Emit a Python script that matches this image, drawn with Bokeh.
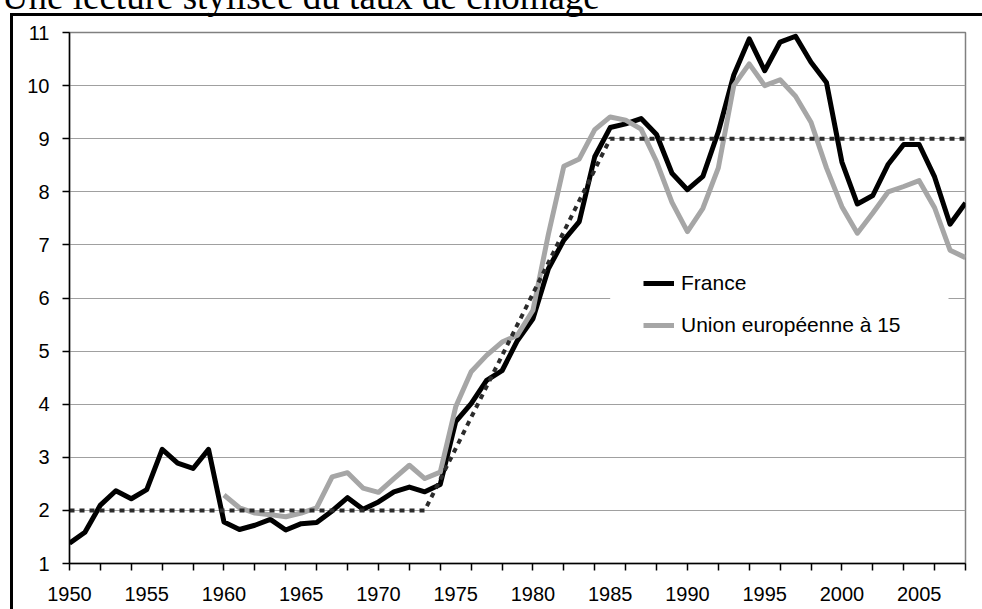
from bokeh.plotting import figure
from bokeh.models import (Range1d, FixedTicker, Legend, LegendItem,
                          BoxAnnotation, Label, InlineStyleSheet)
from bokeh.embed import file_html
from bokeh.resources import INLINE

# ---------------- data ----------------
title_text = "Une lecture stylisée du taux de chômage"

years = list(range(1950, 2009))
france = [1.38, 1.59, 2.10, 2.37, 2.22, 2.39, 3.15, 2.89, 2.79, 3.15,
          1.78, 1.64, 1.72, 1.83, 1.63, 1.75, 1.77, 1.99, 2.24, 2.02,
          2.16, 2.35, 2.44, 2.35, 2.49, 3.67, 4.01, 4.45, 4.63, 5.20,
          5.61, 6.55, 7.09, 7.44, 8.66, 9.21, 9.28, 9.38, 9.08, 8.35,
          8.04, 8.29, 9.13, 10.20, 10.88, 10.28, 10.82, 10.93, 10.44, 10.06,
          8.56, 7.77, 7.93, 8.52, 8.89, 8.89, 8.28, 7.39, 7.79]

eu_years = list(range(1960, 2009))
eu15 = [2.29, 2.05, 1.95, 1.92, 1.88, 1.95, 2.05, 2.63, 2.71, 2.42,
        2.34, 2.60, 2.85, 2.60, 2.72, 3.95, 4.61, 4.92, 5.17, 5.30,
        5.77, 7.20, 8.48, 8.62, 9.17, 9.41, 9.35, 9.18, 8.57, 7.80,
        7.25, 7.69, 8.45, 10.00, 10.41, 10.00, 10.11, 9.80, 9.31, 8.45,
        7.72, 7.22, 7.60, 8.00, 8.10, 8.21, 7.70, 6.90, 6.76]

stylised_years = [1950, 1973, 1985, 2008]
stylised_values = [2.0, 2.0, 9.0, 9.0]

x_label_years = [1950, 1955, 1960, 1965, 1970, 1975, 1980, 1985, 1990, 1995, 2000, 2005]
x_minor_years = [1950, 1952, 1954, 1956, 1958, 1960, 1962, 1964, 1966, 1968,
                 1970, 1972, 1974, 1976, 1978, 1980, 1982, 1984, 1986, 1988,
                 1990, 1992, 1994, 1996, 1998, 2000, 2002, 2004, 2006, 2008]
y_ticks = [1, 2, 3, 4, 5, 6, 7, 8, 9, 10, 11]

legend_labels = ["France", "Union européenne à 15"]

# ---------------- figure ----------------
FONT = "Liberation Sans"

# The top border is large enough for the title label; the figure is shifted up
# by 16px so that the plot frame still starts 32px below the top of the page.
p = figure(width=982, height=625, title=None,
           x_range=Range1d(1950, 2008), y_range=Range1d(1, 11),
           output_backend="svg", toolbar_location=None,
           min_border_left=69, min_border_right=17,
           min_border_top=48, min_border_bottom=46,
           margin=(-16, 0, 0, 0))
p.background_fill_color = "white"
p.border_fill_color = "white"
p.outline_line_color = "#808080"
p.outline_line_width = 1.5

# outer chart frame of the (cropped) picture, drawn as a CSS overlay
p.stylesheets.append(InlineStyleSheet(css="""
:host { position: relative; }
:host::after {
  content: "";
  position: absolute;
  left: 10px; top: 29px; right: 0; bottom: 0;
  border-left: 3px solid #000;
  border-top: 3px solid #000;
  pointer-events: none;
  z-index: 10;
}
"""))

# grid
p.xgrid.visible = False
p.ygrid.ticker = FixedTicker(ticks=y_ticks)
p.ygrid.grid_line_color = "#a0a0a0"
p.ygrid.grid_line_width = 1

# x axis
p.xaxis.ticker = FixedTicker(ticks=x_label_years, minor_ticks=x_minor_years)
p.xaxis.major_tick_line_color = None
p.xaxis.major_tick_out = 7
p.xaxis.major_tick_in = 0
p.xaxis.minor_tick_line_color = "black"
p.xaxis.minor_tick_line_width = 1.5
p.xaxis.minor_tick_out = 7
p.xaxis.minor_tick_in = 0
p.xaxis.axis_line_color = "black"
p.xaxis.axis_line_width = 1.5
p.xaxis.major_label_text_font = FONT
p.xaxis.major_label_text_font_size = "20px"
p.xaxis.major_label_text_color = "black"
p.xaxis.major_label_standoff = 16

# y axis
p.yaxis.ticker = FixedTicker(ticks=y_ticks, minor_ticks=[])
p.yaxis.major_tick_line_color = "black"
p.yaxis.major_tick_line_width = 1.5
p.yaxis.major_tick_out = 7
p.yaxis.major_tick_in = 0
p.yaxis.minor_tick_line_color = None
p.yaxis.axis_line_color = "black"
p.yaxis.axis_line_width = 1.5
p.yaxis.major_label_text_font = FONT
p.yaxis.major_label_text_font_size = "20px"
p.yaxis.major_label_text_color = "black"
p.yaxis.major_label_standoff = 13

# white box behind the legend (hides a grid line)
legend_bg = BoxAnnotation(left=1985.0, right=2006.9, bottom=5.15, top=6.7,
                          fill_color="white", fill_alpha=1.0, line_alpha=0,
                          level="underlay")
p.add_layout(legend_bg)

# series
r_fr = p.line(years, france, line_color="black", line_width=5, line_join="round")
r_eu = p.line(eu_years, eu15, line_color="#a6a6a6", line_width=5, line_join="round")
r_st = p.line(stylised_years, stylised_values, line_color="#2b2b2b", line_width=4,
              line_dash="5 5")

legend = Legend(items=[LegendItem(label=legend_labels[0], renderers=[r_fr]),
                       LegendItem(label=legend_labels[1], renderers=[r_eu])],
                location=(574, 225), orientation="vertical",
                padding=0, margin=0, spacing=16,
                glyph_width=31, glyph_height=26, label_height=26,
                label_standoff=7,
                label_text_font=FONT, label_text_font_size="21px",
                label_text_color="black",
                background_fill_alpha=0, border_line_alpha=0)
p.add_layout(legend)

# title (large, partly cropped at the top of the picture, as in the source)
title = Label(x=1945.62, y=11.68, text=title_text,
              text_font="Liberation Serif", text_font_size="37px",
              text_color="black", text_align="left", text_baseline="middle")
p.add_layout(title, "above")

open("out.html", "w", encoding="utf-8").write(file_html(p, INLINE))
